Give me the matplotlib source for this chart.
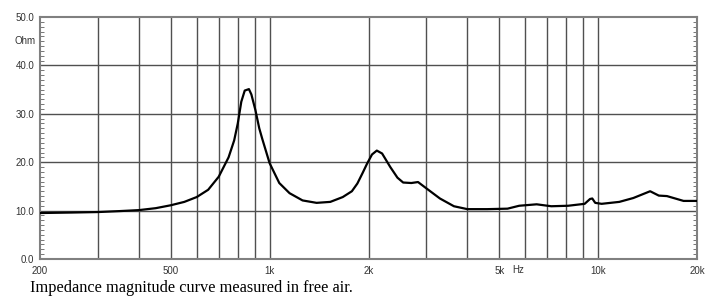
import matplotlib
matplotlib.use("Agg")
import matplotlib.pyplot as plt

# impedance curve (Hz, Ohm)
freq = [200, 250, 300, 350, 400, 450, 500, 550, 600, 650, 700, 750, 780, 800,
        820, 840, 865, 880, 905, 930, 950, 1000, 1070, 1150, 1260, 1390, 1530,
        1670, 1780, 1850, 1920, 1980, 2050, 2120, 2200, 2330, 2450, 2550, 2700,
        2830, 3000, 3300, 3640, 4000, 4600, 5300, 5750, 6500, 7200, 8100, 9100,
        9450, 9600, 9800, 10250, 11600, 12800, 14400, 15300, 16200, 18200, 20000]
ohm = [9.5, 9.6, 9.7, 9.9, 10.1, 10.5, 11.1, 11.8, 12.8, 14.3, 17.0, 21.0, 24.5,
       28.0, 32.5, 34.8, 35.1, 34.0, 30.8, 27.0, 24.8, 19.8, 15.7, 13.6, 12.1,
       11.6, 11.8, 12.8, 14.0, 15.6, 17.8, 19.7, 21.6, 22.4, 21.8, 19.0, 16.8,
       15.8, 15.7, 15.9, 14.6, 12.5, 10.9, 10.3, 10.3, 10.4, 11.0, 11.3, 10.9,
       11.0, 11.4, 12.4, 12.5, 11.6, 11.4, 11.8, 12.6, 14.0, 13.1, 13.0, 12.0, 12.0]

x_ticks = [200, 500, 1000, 2000, 5000, 10000, 20000]
x_labels = ["200", "500", "1k", "2k", "5k", "10k", "20k"]
x_grid = [300, 400, 500, 600, 700, 800, 900, 1000, 2000, 3000, 4000, 5000,
          6000, 7000, 8000, 9000, 10000]
y_ticks = [0, 10, 20, 30, 40, 50]
y_labels = ["0.0", "10.0", "20.0", "30.0", "40.0", "50.0"]
y_grid = [10, 20, 30, 40]

plt.rcParams["font.family"] = ["Liberation Sans", "DejaVu Sans"]

fig = plt.figure(figsize=(7.08, 3.0), dpi=100)
ax = fig.add_axes([40 / 708, 41 / 300, 657 / 708, 242 / 300])

for g in x_grid:
    ax.axvline(g, color="#505050", lw=1.0, zorder=1)
for g in y_grid:
    ax.axhline(g, color="#505050", lw=1.0, zorder=1)

ax.plot(freq, ohm, color="black", lw=1.6, zorder=3)

ax.set_xscale("log")
ax.set_xlim(200, 20000)
ax.set_ylim(0, 50)

ax.set_xticks(x_ticks)
ax.set_xticklabels(x_labels, fontsize=7, color="#333333")
ax.xaxis.set_minor_locator(matplotlib.ticker.NullLocator())
ax.tick_params(axis="x", length=0, pad=5)

ax.set_yticks(y_ticks)
ax.set_yticklabels(y_labels, fontsize=7, color="#333333")
ax.set_yticks(range(0, 51), minor=True)
ax.tick_params(axis="y", which="major", length=0, pad=4)
ax.tick_params(axis="y", which="minor", direction="in", length=3, width=0.6,
               color="#606060", left=True, right=True)

for s in ax.spines.values():
    s.set_color("#808080")
    s.set_linewidth(1.5)

# extra axis texts
ax.text(-0.006, 45, "Ohm", transform=ax.get_yaxis_transform(), ha="right",
        va="center", fontsize=7, color="#333333")
fig.text(518 / 708, 1 - 270 / 300, "Hz", ha="center", va="center", fontsize=7,
         color="#333333")

fig.text(30 / 708, 1 - 288 / 300, "Impedance magnitude curve measured in free air.",
         family=["Liberation Serif", "DejaVu Serif"], fontsize=11.8, ha="left",
         va="center", color="black")

fig.savefig("out.png", dpi=100)
